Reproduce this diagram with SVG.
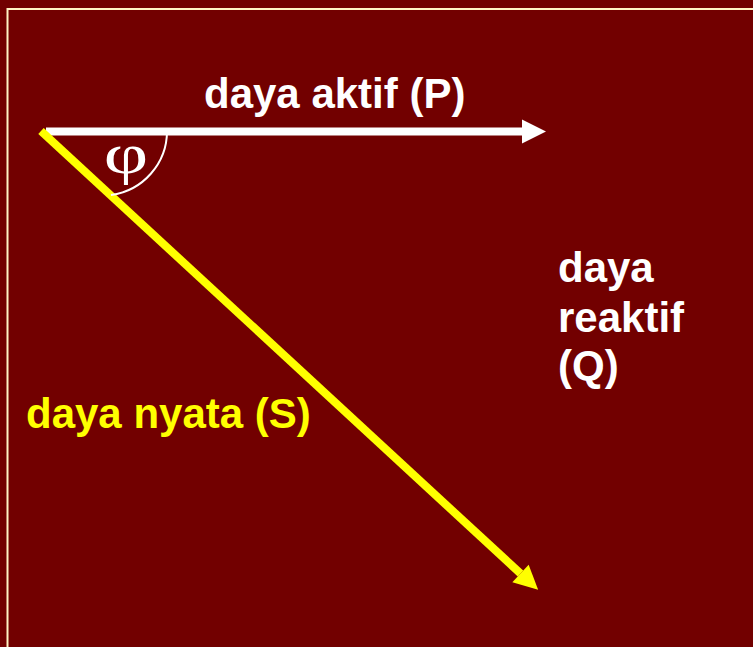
<svg xmlns="http://www.w3.org/2000/svg" width="753" height="647" viewBox="0 0 753 647">
<style>
.lbl{font-family:"Liberation Sans",Arial,sans-serif;font-weight:bold;font-size:42px}
.w{fill:#ffffff}
.y{fill:#ffff00}
</style>
<defs>
<marker id="ahW" markerUnits="userSpaceOnUse" markerWidth="26" markerHeight="24" refX="0" refY="12" orient="auto" overflow="visible">
<path d="M0,0 L24,12 L0,24 Z" fill="#ffffff"/>
</marker>
<marker id="ahY" markerUnits="userSpaceOnUse" markerWidth="26" markerHeight="24" refX="0" refY="12" orient="auto" overflow="visible">
<path d="M0,0 L24,12 L0,24 Z" fill="#ffff00"/>
</marker>
</defs>
<rect x="0" y="0" width="753" height="647" fill="#720000"/>
<path d="M7.5,660 L7.5,9 L760,9" fill="none" stroke="#fff3c4" stroke-width="2"/>
<g id="connectors">
<line id="P-arrow" x1="46" y1="131.5" x2="522" y2="131.5" stroke="#ffffff" stroke-width="8" marker-end="url(#ahW)"/>
<line id="S-arrow" x1="41" y1="131" x2="520.5" y2="573.5" stroke="#ffff00" stroke-width="8" marker-end="url(#ahY)"/>
<path id="angle-arc" d="M167,131 A64.6,64.6 0 0 1 111,195" fill="none" stroke="#ffffff" stroke-width="2"/>
</g>
<g id="phi">
<text transform="translate(126,173) scale(1.35,1)" x="0" y="0" text-anchor="middle" font-family="Liberation Serif,'Times New Roman',serif" font-size="57" fill="#ffffff">φ</text>
</g>
<g id="label-P">
<text class="lbl w" x="204" y="108">daya aktif (P)</text>
</g>
<g id="label-Q">
<text class="lbl w" x="558" y="282">daya</text>
<text class="lbl w" x="558" y="332">reaktif</text>
<text class="lbl w" x="558" y="380">(Q)</text>
</g>
<g id="label-S">
<text class="lbl y" x="26" y="428">daya nyata (S)</text>
</g>
</svg>
